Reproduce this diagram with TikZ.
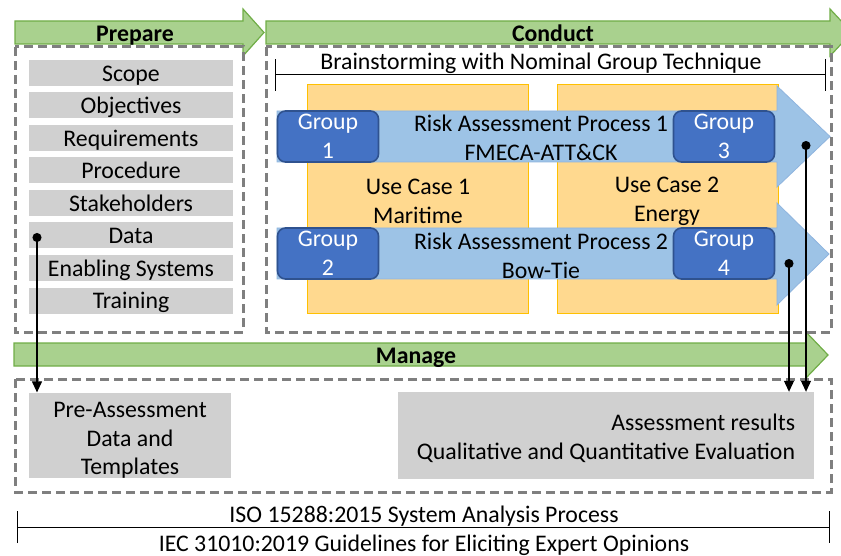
\documentclass[tikz,border=0pt]{standalone}
\usepackage{fontspec}
\setmainfont{Carlito}
\usetikzlibrary{arrows.meta}

\definecolor{phasegreen}{HTML}{A9D18E}
\definecolor{phaseline}{HTML}{70AD47}
\definecolor{itemgray}{HTML}{D0D0D0}
\definecolor{dashgray}{HTML}{7F7F7F}
\definecolor{casefill}{HTML}{FFD98F}
\definecolor{caseline}{HTML}{FFC000}
\definecolor{procblue}{HTML}{9DC3E6}
\definecolor{procline}{HTML}{8FB4DE}
\definecolor{groupblue}{HTML}{4472C4}
\definecolor{groupline}{HTML}{2F528F}

\tikzset{
  phase/.style={fill=phasegreen, draw=phaseline, line width=1.2pt},
  dashbox/.style={draw=dashgray, line width=3pt, dash pattern=on 9pt off 5pt},
  item/.style={fill=itemgray, minimum width=204pt, minimum height=26pt, inner sep=0pt,
    text height=20.5pt, text depth=4pt},
  usecase/.style={fill=casefill, draw=caseline, line width=0.8pt, minimum width=221pt, minimum height=229pt},
  process/.style={fill=procblue, draw=procline, line width=0.8pt},
  group/.style={fill=groupblue, draw=groupline, line width=1.6pt, rounded corners=8pt,
    minimum width=101pt, minimum height=51pt, inner sep=0pt, text=white, align=center},
  link/.style={line width=1.1pt, {Circle[length=9pt]}-{Triangle[length=11pt,width=10pt]}},
  span/.style={line width=1pt, {Bar[width=32pt]}-{Bar[width=32pt]}}
}

\begin{document}
\begin{tikzpicture}[x=1pt, y=-1pt,
    every node/.style={font=\fontsize{23.8}{28.5}\selectfont}]
  \useasboundingbox (0,0) rectangle (841,556);

  % phase arrows
  \draw[phase] (15,21) -- (243,21) -- (243,9) -- (264,32.5) -- (243,56) -- (243,44) -- (15,44) -- cycle;
  \draw[phase] (266,21) -- (830,21) -- (830,9) -- (852,32.5) -- (830,56) -- (830,44) -- (266,44) -- cycle;
  \draw[phase] (14,343) -- (806,343) -- (806,332) -- (828,355) -- (806,378) -- (806,366) -- (14,366) -- cycle;
  \node[font=\fontsize{23.8}{28.5}\selectfont\bfseries] (prepare) at (135,35.5) {Prepare};
  \node[font=\fontsize{23.8}{28.5}\selectfont\bfseries] (conduct) at (553,33) {Conduct};
  \node[font=\fontsize{23.8}{28.5}\selectfont\bfseries] (manage) at (416,357.5) {Manage};

  % dashed frames
  \draw[dashbox] (15,47) rectangle (243,332);
  \draw[dashbox] (266,47) rectangle (831,332);
  \draw[dashbox] (15,379) rectangle (831,492);

  % prepare items
  \node[item] (scope) at (131,73) {Scope};
  \node[item] (objectives) at (131,105.5) {Objectives};
  \node[item] (requirements) at (131,138) {Requirements};
  \node[item] (procedure) at (131,170.5) {Procedure};
  \node[item] (stakeholders) at (131,203) {Stakeholders};
  \node[item] (data) at (131,235.5) {Data};
  \node[item] (enabling) at (131,268) {Enabling Systems};
  \node[item] (training) at (131,300.5) {Training};

  % conduct
  \node (brainstorm) at (541,63) {Brainstorming with Nominal Group Technique};
  \draw[span] (275,75) -- (826,75);

  \node[usecase] (case1) at (417.5,198.5) {};
  \node[usecase] (case2) at (667.5,198.5) {};
  \node[align=center] (case1text) at (418,201.5) {Use Case 1\\Maritime};
  \node[align=center] (case2text) at (667,201.5) {Use Case 2\\Energy};

  \draw[process] (277,111) -- (777,111) -- (777,86) -- (830,136.5) -- (777,187) -- (777,162) -- (277,162) -- cycle;
  \draw[process] (277,228) -- (777,228) -- (777,203) -- (829,254) -- (777,305) -- (777,279) -- (277,279) -- cycle;
  \node[align=center] (process1) at (541,138) {Risk Assessment Process 1\\FMECA-ATT\&CK};
  \node[align=center] (process2) at (541,256) {Risk Assessment Process 2\\Bow-Tie};

  \node[group] (group1) at (328,136.5) {Group\\1};
  \node[group] (group3) at (724,136.5) {Group\\3};
  \node[group] (group2) at (328,253.5) {Group\\2};
  \node[group] (group4) at (724,253.5) {Group\\4};

  % manage
  \node[item, minimum width=202pt, minimum height=85pt, text height=, text depth=, align=center] (preassess) at (130,435.5)
    {\rule{0pt}{25pt}Pre-Assessment\\Data and\\Templates};
  \node[item, minimum width=416pt, minimum height=87pt, text height=, text depth=, align=right] (results) at (606,435.5)
    {\rule{0pt}{22pt}Assessment results\\Qualitative and Quantitative Evaluation};

  \coordinate (datadot) at (37,233);
  \coordinate (proc1dot) at (806,141);
  \coordinate (proc2dot) at (789,259);
  \draw[link] (datadot) -- (datadot |- preassess.north);
  \draw[link] (proc1dot) -- (proc1dot |- results.north);
  \draw[link] (proc2dot) -- (proc2dot |- results.north);

  % standards
  \node (iso) at (424,516.5) {ISO 15288:2015 System Analysis Process};
  \draw[span] (17,527) -- (830,527);
  \node (iec) at (424,545) {IEC 31010:2019 Guidelines for Eliciting Expert Opinions};
\end{tikzpicture}
\end{document}
